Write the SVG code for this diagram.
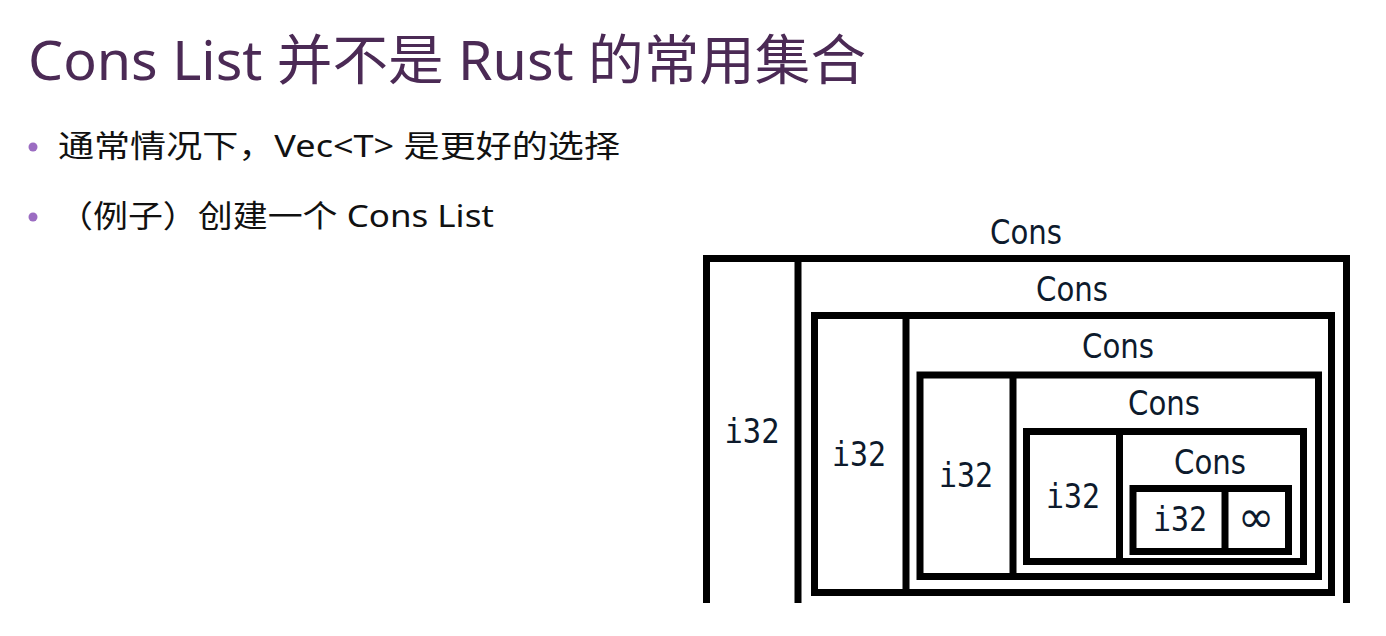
<svg xmlns="http://www.w3.org/2000/svg" width="1386" height="636" viewBox="0 0 1386 636">
<style>
.title{font-family:"Noto Sans","Noto Sans CJK SC",sans-serif;font-size:54px;fill:#4b2a55}
.bt{font-family:"Noto Sans","Noto Sans CJK SC",sans-serif;font-size:31px;fill:#111}
.lbl{font-family:"DejaVu Sans",sans-serif;font-size:33px;fill:#0d1a2c;text-anchor:middle}
.num{font-family:"DejaVu Sans Mono",monospace;font-size:33px;fill:#0d1a2c;text-anchor:middle}
.inf{font-family:"DejaVu Sans",sans-serif;font-size:44px;fill:#0d1a2c;text-anchor:middle}
.box{fill:none;stroke:#000;stroke-width:7}
.bul{fill:#9b6cc2}
</style>
<rect width="1386" height="636" fill="#fff"/>
<text class="title" x="28" y="80" textLength="838" lengthAdjust="spacingAndGlyphs">Cons List 并不是 Rust 的常用集合</text>
<circle class="bul" cx="33" cy="147" r="4.5"/>
<text class="bt" x="58" y="157" textLength="562" lengthAdjust="spacingAndGlyphs">通常情况下，Vec&lt;T&gt; 是更好的选择</text>
<circle class="bul" cx="33" cy="217" r="4.5"/>
<text class="bt" x="58" y="227" textLength="436" lengthAdjust="spacingAndGlyphs">（例子）创建一个 Cons List</text>
<g id="connectors"/>
<g id="cons1">
<path class="box" d="M706.5,603 V258.5 H1346.5 V603"/>
<line class="box" x1="798" y1="262" x2="798" y2="603"/>
<text class="lbl" x="1026" y="244" textLength="72" lengthAdjust="spacingAndGlyphs">Cons</text>
<text class="num" x="752" y="443" textLength="55" lengthAdjust="spacingAndGlyphs">i32</text>
</g>
<g id="cons2">
<rect class="box" x="814.5" y="315.5" width="517" height="277"/>
<line class="box" x1="906" y1="319" x2="906" y2="589"/>
<text class="lbl" x="1072" y="301" textLength="72" lengthAdjust="spacingAndGlyphs">Cons</text>
<text class="num" x="859" y="466" textLength="54" lengthAdjust="spacingAndGlyphs">i32</text>
</g>
<g id="cons3">
<rect class="box" x="920" y="375" width="398.5" height="201.5"/>
<line class="box" x1="1013" y1="378" x2="1013" y2="573"/>
<text class="lbl" x="1118" y="358" textLength="72" lengthAdjust="spacingAndGlyphs">Cons</text>
<text class="num" x="966" y="487" textLength="54" lengthAdjust="spacingAndGlyphs">i32</text>
</g>
<g id="cons4">
<rect class="box" x="1026.5" y="431.5" width="277" height="130"/>
<line class="box" x1="1119.5" y1="435" x2="1119.5" y2="558"/>
<text class="lbl" x="1164" y="415" textLength="72" lengthAdjust="spacingAndGlyphs">Cons</text>
<text class="num" x="1073" y="508" textLength="54" lengthAdjust="spacingAndGlyphs">i32</text>
</g>
<g id="cons5">
<rect class="box" x="1133" y="488.5" width="155.5" height="63"/>
<line class="box" x1="1225" y1="492" x2="1225" y2="548"/>
<text class="lbl" x="1210" y="474" textLength="72" lengthAdjust="spacingAndGlyphs">Cons</text>
<text class="num" x="1180" y="531" textLength="54" lengthAdjust="spacingAndGlyphs">i32</text>
<text class="inf" x="1256" y="532">∞</text>
</g>
</svg>
